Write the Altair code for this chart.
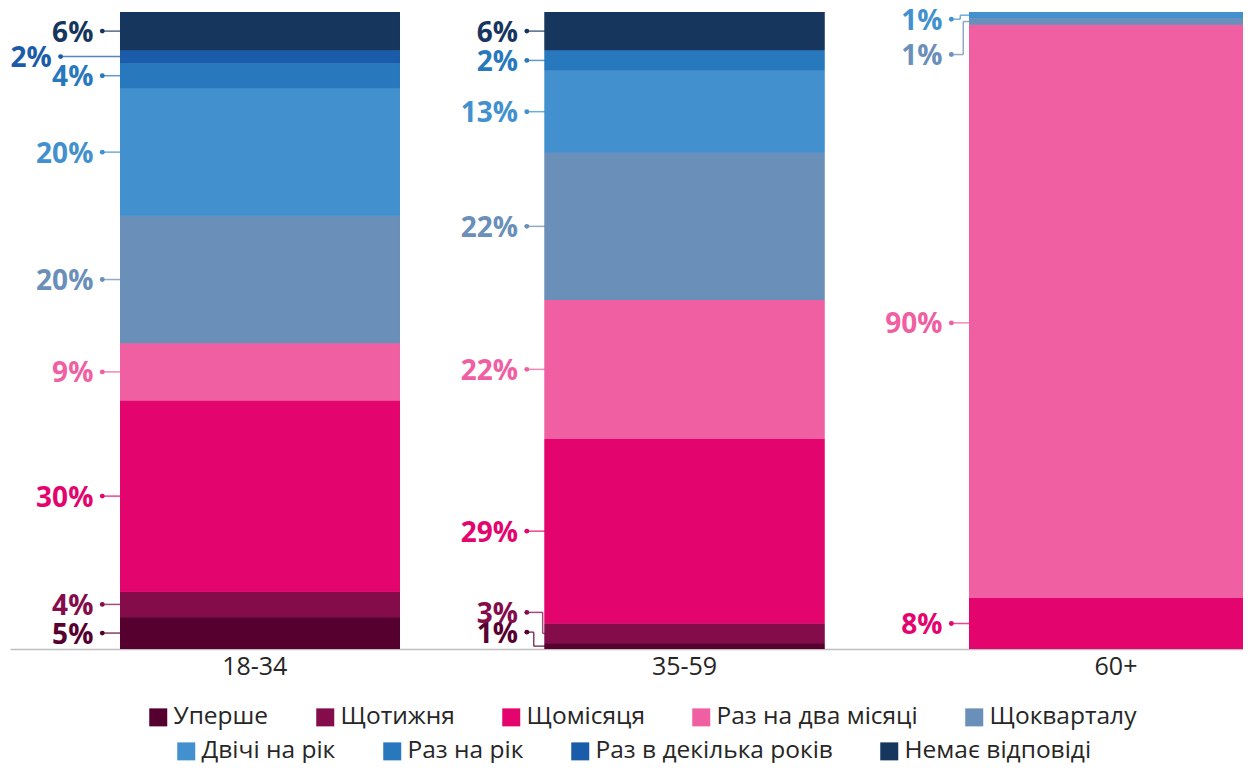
import altair as alt
import pandas as pd

# ---------------- data ----------------
groups = ["18-34", "35-59", "60+"]
categories = ["Уперше", "Щотижня", "Щомісяця", "Раз на два місяці", "Щокварталу",
              "Двічі на рік", "Раз на рік", "Раз в декілька років", "Немає відповіді"]
vals_18_34 = [5, 4, 30, 9, 20, 20, 4, 2, 6]
vals_35_59 = [0.9, 3.1, 29.0, 21.8, 23.1, 12.9, 3.2, 0, 6.0]
vals_60 = [0, 0, 8, 90, 1, 1, 0, 0, 0]
labels_18_34 = ["5%", "4%", "30%", "9%", "20%", "20%", "4%", "2%", "6%"]
labels_35_59 = ["1%", "3%", "29%", "22%", "22%", "13%", "2%", "", "6%"]
labels_60 = ["", "", "8%", "90%", "1%", "1%", "", "", ""]
colors = ["#560030", "#850c4b", "#e4046e", "#f05fa2", "#6a8fb8",
          "#4291ce", "#2878bd", "#1a5ca9", "#17365e"]

# ---------------- layout (styles) ----------------
STEP = 428.0          # px between bar centres
BAR_W = 280.0         # px bar width
W, H = 1233, 637      # plot area
XMIN = -247.0 / STEP
XMAX = XMIN + W / STEP
PXY = 100.0 / H       # data units per px (y)
GROUP_LABEL_SHIFT = [-5.3, 0.0, 7.0]   # px shift of category labels

# label tweaks: dot offset from bar edge, vertical nudge (px, +down), elbow x
special = {
    ("18-34", "Раз в декілька років"): dict(dot=-61),
    ("35-59", "Щотижня"): dict(dy=-21, elbow=-3),
    ("35-59", "Уперше"): dict(dy=-14, elbow=-12),
    ("60+", "Двічі на рік"): dict(dy=4, elbow=-10),
    ("60+", "Щокварталу"): dict(dy=33, elbow=-7),
    ("60+", "Раз на два місяці"): dict(dy=11.5),
}

all_vals = [vals_18_34, vals_35_59, vals_60]
all_labels = [labels_18_34, labels_35_59, labels_60]

bar_rows, text_rows, seg_rows, dot_rows = [], [], [], []
for gi, g in enumerate(groups):
    cum = 0.0
    xb = gi - (BAR_W / 2) / STEP
    for ci, c in enumerate(categories):
        v = all_vals[gi][ci]
        if v <= 0:
            continue
        y0, y1 = cum, cum + v
        cum = y1
        bar_rows.append(dict(idx=gi, cat=c, y0=y0, y1=y1))
        lab = all_labels[gi][ci]
        if not lab:
            continue
        sp = special.get((g, c), {})
        dot = sp.get("dot", -19)
        dy = sp.get("dy", 0)
        cy = (y0 + y1) / 2
        ly = cy - dy * PXY
        col = colors[ci]
        xd = xb + dot / STEP
        text_rows.append(dict(x=xb + (dot - 9) / STEP, y=ly, label=lab, col=col))
        dot_rows.append(dict(x=xd, y=ly, col=col))
        if "elbow" in sp:
            xe = xb + sp["elbow"] / STEP
            seg_rows += [dict(x=xd, x2=xe, y=ly, y2=ly, col=col),
                         dict(x=xe, x2=xe, y=ly, y2=cy, col=col),
                         dict(x=xe, x2=xb, y=cy, y2=cy, col=col)]
        else:
            seg_rows.append(dict(x=xd, x2=xb, y=ly, y2=ly, col=col))

bars = pd.DataFrame(bar_rows)
texts = pd.DataFrame(text_rows)
segs = pd.DataFrame(seg_rows)
dots = pd.DataFrame(dot_rows)
glabels = pd.DataFrame(dict(g=groups,
                            x=[i + s / STEP for i, s in enumerate(GROUP_LABEL_SHIFT)],
                            y=[0, 0, 0]))

FONT = "Open Sans"
xscale = alt.Scale(domain=[XMIN, XMAX], nice=False, zero=False)
yscale = alt.Scale(domain=[0, 100], nice=False)

xaxis = alt.Axis(labels=False, title=None, ticks=False, grid=False,
                 domainColor="#bfbfbf", domainWidth=1.5)

legend_common = dict(title=None, orient="none", direction="horizontal",
                     symbolType="square", symbolSize=324, symbolStrokeWidth=0,
                     labelFont=FONT, labelFontSize=24.5, labelColor="#262626",
                     labelOffset=3, labelLimit=0, padding=0, columnPadding=44,
                     rowPadding=0)

bar_a = alt.Chart(bars).mark_bar(clip=True, size=BAR_W).encode(
    x=alt.X("idx:Q", scale=xscale, axis=xaxis),
    y=alt.Y("y0:Q", scale=yscale, axis=None),
    y2="y1:Q",
    color=alt.Color("cat:N", scale=alt.Scale(domain=categories, range=colors),
                    legend=alt.Legend(values=categories[:5], columns=5,
                                      legendX=136, legendY=693, **legend_common)),
)
bar_b = alt.Chart(bars).mark_bar(clip=True, size=BAR_W).encode(
    x=alt.X("idx:Q", scale=xscale),
    y=alt.Y("y0:Q", scale=yscale),
    y2="y1:Q",
    fill=alt.Fill("cat:N", scale=alt.Scale(domain=categories, range=colors),
                  legend=alt.Legend(values=categories[5:], columns=4,
                                    legendX=164, legendY=727, **legend_common)),
)

seg_layer = alt.Chart(segs).mark_rule(strokeWidth=1.5, opacity=0.75).encode(
    x=alt.X("x:Q", scale=xscale), x2="x2:Q",
    y=alt.Y("y:Q", scale=yscale), y2="y2:Q",
    color=alt.Color("col:N", scale=None),
)
dot_layer = alt.Chart(dots).mark_circle(size=24, opacity=1).encode(
    x=alt.X("x:Q", scale=xscale),
    y=alt.Y("y:Q", scale=yscale),
    color=alt.Color("col:N", scale=None),
)
text_layer = alt.Chart(texts).mark_text(align="right", baseline="middle", dy=2.5,
                                        font=FONT, fontSize=28, fontWeight="bold").encode(
    x=alt.X("x:Q", scale=xscale),
    y=alt.Y("y:Q", scale=yscale),
    text="label:N",
    color=alt.Color("col:N", scale=None),
)
group_layer = alt.Chart(glabels).mark_text(align="center", baseline="middle", dy=18,
                                           font=FONT, fontSize=25, color="#262626").encode(
    x=alt.X("x:Q", scale=xscale),
    y=alt.Y("y:Q", scale=yscale),
    text="g:N",
)

chart = alt.layer(bar_a, bar_b, seg_layer, dot_layer, text_layer, group_layer).resolve_scale(
    color="independent"
).properties(
    width=W, height=H,
    autosize=alt.AutoSizeParams(type="none"),
    padding={"left": 2, "top": 4, "right": 0, "bottom": 114},
).configure_view(stroke=None)

chart.save("out.html", embed_options={"renderer": "svg", "actions": False})
